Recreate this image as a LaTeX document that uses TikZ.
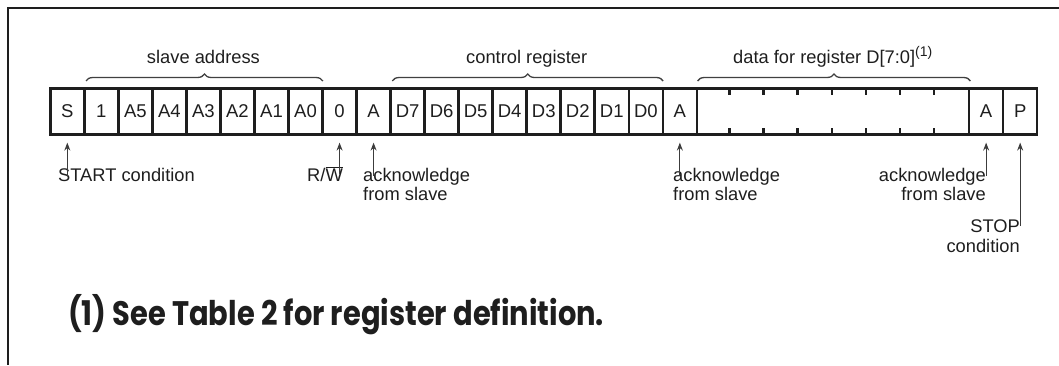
\documentclass[tikz,border=0pt]{standalone}
\usepackage{fontspec}
\setmainfont{Liberation Sans}
\newfontfamily\notefont{Poppins}
\usetikzlibrary{decorations.pathreplacing,arrows.meta,calc}
\definecolor{ink}{HTML}{1E1E1E}
\definecolor{arrowgray}{HTML}{3C3C3C}
\begin{document}
\begin{tikzpicture}[x=1pt,y=-1pt,
  cell/.style={draw=ink, line width=2.6pt, minimum width=34.03pt, minimum height=46pt,
    inner sep=0pt, anchor=north west, text=ink, font=\fontsize{18.5}{20}\selectfont},
  lbl/.style={inner sep=0pt, text=ink, font=\fontsize{18.3}{19.5}\selectfont},
  bracelbl/.style={inner sep=0pt, text=ink, anchor=base, font=\fontsize{18.3}{20}\selectfont},
  brc/.style={draw=ink!85, line width=1.3pt, decorate, decoration={brace, amplitude=7pt}},
  arr/.style={draw=arrowgray, line width=1.2pt, -{Stealth[length=8pt,width=6pt]}, shorten >=7pt},
  frame/.style={draw=ink, line width=2.6pt},
  tick/.style={draw=ink, line width=2.4pt}
]
\useasboundingbox (0,0) rectangle (1059,365);
% frame
\draw[frame] (1059,8) -- (8,8) -- (8,365);
% cells
\foreach \t [count=\i from 0] in {S,1,A5,A4,A3,A2,A1,A0,0,A,D7,D6,D5,D4,D3,D2,D1,D0,A}{
  \node[cell] (c\i) at ({49+\i*34.03},87) {\t};
}
\node[cell, minimum width={8*34.03pt}] (data) at ({49+19*34.03},87) {};
\node[cell] (c27) at ({49+27*34.03},87) {A};
\node[cell] (c28) at ({49+28*34.03},87) {P};
% ticks inside data field
\foreach \k in {1,...,7}{
  \draw[tick] ($(data.north west)+(\k*34.03,0)$) -- ++(0,8);
  \draw[tick] ($(data.south west)+(\k*34.03,0)$) -- ++(0,-8);
}
% braces
\draw[brc] ($(c1.north west)+(3,-6)$) -- ($(c7.north east)+(-1,-6)$);
\draw[brc] ($(c10.north west)+(3,-6)$) -- ($(c17.north east)+(-1,-6)$);
\draw[brc] ($(data.north west)+(2,-6)$) -- ($(data.north east)+(0,-6)$);
\node[bracelbl] (sa) at ($(c1.north west)!0.5!(c7.north east)+(0,-24)$) {slave address};
\node[bracelbl] (cr) at ($(c10.north west)!0.5!(c17.north east)+(0,-24)$) {control register};
\node[bracelbl] (dr) at ($(data.north west)!0.5!(data.north east)+(0,-24)$) {data for register D[7:0]\textsuperscript{\fontsize{14}{14}\selectfont(1)}};
% labels below
\node[lbl, anchor=base west] (start) at (58,181) {START condition};
\node[lbl, anchor=base west] (rw) at (307,181) {R/$\overline{\hbox{W}}$};
\node[lbl, anchor=north west, align=left] (ack1) at (363,168) {acknowledge\\from slave};
\node[lbl, anchor=north west, align=left] (ack2) at (673,168) {acknowledge\\from slave};
\node[lbl, anchor=north east, align=right] (ack3) at (986,168) {acknowledge\\from slave};
\node[lbl, anchor=north east, align=right] (stop) at (1020,220) {STOP\\condition};
% arrows
\draw[arr] ([yshift=-8pt]start.north -| c0.south) -- (c0.south);
\draw[arr] ([yshift=-8pt]rw.north -| c8.south) -- (c8.south);
\draw[arr] ([yshift=-8pt]ack1.north -| c9.south) -- (c9.south);
\draw[arr] ([yshift=-8pt]ack2.north -| c18.south) -- (c18.south);
\draw[arr] ([yshift=-8pt]ack3.north -| c27.south) -- (c27.south);
\draw[arr] ([yshift=-6pt]stop.north -| c28.south) -- (c28.south);
% footnote
\node[anchor=base west, inner sep=0pt, text=ink, font=\notefont\bfseries\fontsize{34}{38}\selectfont] (note) at (68,325) {\scalebox{0.85}[1]{(1) See Table 2 for register definition.}};
\end{tikzpicture}
\end{document}
